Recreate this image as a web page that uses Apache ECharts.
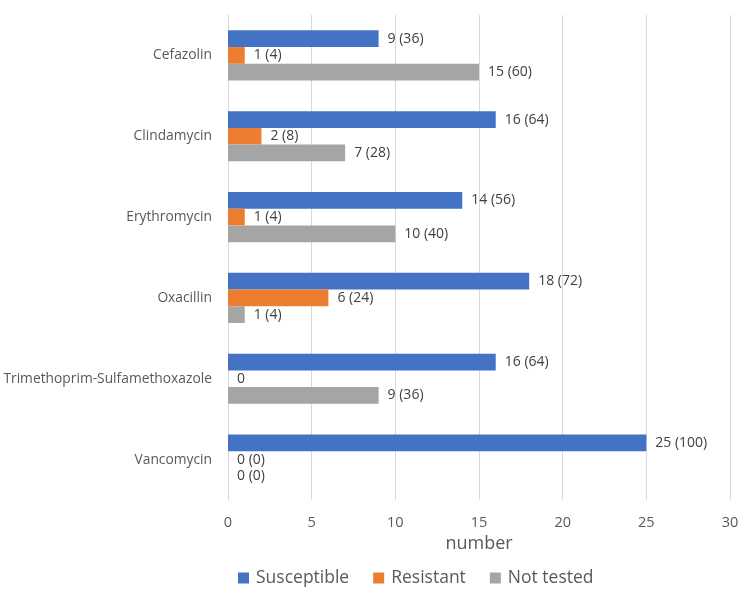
<!DOCTYPE html>
<html>
<head>
<meta charset="utf-8">
<script src="https://cdn.jsdelivr.net/npm/echarts@6/dist/echarts.min.js"></script>
<style>
html,body{margin:0;padding:0;background:#fff;}
#chart{width:750px;height:596px;}
</style>
</head>
<body>
<div id="chart"></div>
<script>
const categories = ["Cefazolin", "Clindamycin", "Erythromycin", "Oxacillin", "Trimethoprim-Sulfamethoxazole", "Vancomycin"];
const susceptible = [9, 16, 14, 18, 16, 25];
const resistant = [1, 2, 1, 6, 0, 0];
const notTested = [15, 7, 10, 1, 9, 0];
const susceptibleLabels = ["9 (36)", "16 (64)", "14 (56)", "18 (72)", "16 (64)", "25 (100)"];
const resistantLabels = ["1 (4)", "2 (8)", "1 (4)", "6 (24)", "0", "0 (0)"];
const notTestedLabels = ["15 (60)", "7 (28)", "10 (40)", "1 (4)", "9 (36)", "0 (0)"];
const xTicks = [0, 5, 10, 15, 20, 25, 30];

const FONT = "Open Sans";
function mkSeries(name, data, labels, color) {
  return {
    name: name, type: 'bar', data: data,
    barWidth: 16.7, barGap: '0%',
    itemStyle: {color: color},
    label: {
      show: true, position: 'right', distance: 9,
      fontFamily: FONT, fontSize: 14, color: '#404040',
      formatter: p => labels[p.dataIndex]
    }
  };
}
const chart = echarts.init(document.getElementById('chart'), null, {renderer: 'canvas'});
chart.setOption({
  animation: false,
  textStyle: {fontFamily: FONT},
  grid: {left: 228, right: 20, top: 15, bottom: 96, containLabel: false, outerBoundsMode: 'none'},
  legend: {
    bottom: 4, left: 233, icon: 'rect', itemWidth: 11, itemHeight: 11, itemGap: 24,
    textStyle: {fontFamily: FONT, fontSize: 17.5, color: '#595959', padding: [0, 0, 0, 2]},
    data: ['Susceptible', 'Resistant', 'Not tested']
  },
  xAxis: {
    type: 'value', min: xTicks[0], max: xTicks[xTicks.length - 1], interval: 5,
    name: 'number', nameLocation: 'middle', nameGap: 32,
    nameTextStyle: {fontFamily: FONT, fontSize: 18, color: '#595959'},
    axisLine: {show: false}, axisTick: {show: false},
    axisLabel: {fontFamily: FONT, fontSize: 14.5, color: '#595959', margin: 15},
    splitLine: {show: true, lineStyle: {color: '#d9d9d9', width: 1}}
  },
  yAxis: {
    type: 'category', data: categories, inverse: true,
    axisLine: {show: true, lineStyle: {color: '#d9d9d9'}},
    axisTick: {show: false},
    axisLabel: {fontFamily: FONT, fontSize: 13.8, color: '#595959', margin: 16}
  },
  series: [
    mkSeries('Susceptible', susceptible, susceptibleLabels, '#4472C4'),
    mkSeries('Resistant', resistant, resistantLabels, '#ED7D31'),
    mkSeries('Not tested', notTested, notTestedLabels, '#A5A5A5')
  ]
});
</script>
</body>
</html>
